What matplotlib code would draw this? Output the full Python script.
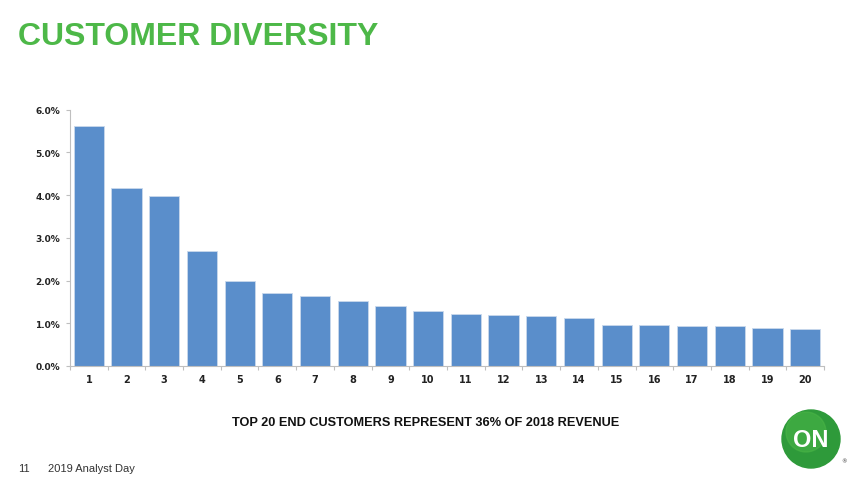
import matplotlib
matplotlib.use("Agg")
import matplotlib.pyplot as plt
from matplotlib.patches import Circle
import numpy as np

categories = [str(i) for i in range(1, 21)]
values = [5.61, 4.17, 3.97, 2.69, 2.00, 1.70, 1.65, 1.51, 1.40, 1.28,
          1.22, 1.19, 1.16, 1.13, 0.95, 0.95, 0.94, 0.93, 0.89, 0.86]
yticks = [0, 1, 2, 3, 4, 5, 6]
ytick_labels = ["0.0%", "1.0%", "2.0%", "3.0%", "4.0%", "5.0%", "6.0%"]

title = "CUSTOMER DIVERSITY"
caption = "TOP 20 END CUSTOMERS REPRESENT 36% OF 2018 REVENUE"

fig = plt.figure(figsize=(8.62, 4.85), dpi=100)
ax = fig.add_axes([70/862, 1-367/485, (824-70)/862, (367-110.7)/485])

x = np.arange(len(categories))
ax.bar(x, values, width=0.8, color="#5A8ECB", edgecolor="#C9D8EC", linewidth=0.6)
ax.set_xlim(-0.5, len(categories) - 0.5)
ax.set_ylim(0, 6)
ax.set_yticks(yticks)
ax.set_yticklabels(ytick_labels, fontsize=6.5, fontweight="bold", color="#222222")
ax.set_xticks(x)
ax.set_xticklabels(categories, fontsize=7, fontweight="bold", color="#222222")
ax.tick_params(axis="x", length=0, pad=6)
ax.set_xticks(np.arange(-0.5, len(categories)), minor=True)
ax.tick_params(axis="x", which="minor", length=3, color="#BFBFBF", width=0.8)
ax.tick_params(axis="y", length=3, color="#BFBFBF", width=0.8, pad=4)
for s in ["top", "right"]:
    ax.spines[s].set_visible(False)
ax.spines["left"].set_color("#BFBFBF")
ax.spines["bottom"].set_color("#BFBFBF")

narrow = ["Liberation Sans Narrow", "Liberation Sans", "DejaVu Sans"]
fig.text(18/862, 1-37/485, title, fontsize=23, fontweight="bold", color="#4DB848",
         family=narrow, va="center", ha="left")
fig.text(426/862, 1-423/485, caption, fontsize=9.2, fontweight="bold", color="#111111",
         family=narrow, va="center", ha="center")
fig.text(18/862, 1-469/485, "11", fontsize=8, color="#333333", va="center", ha="left",
         family=["Liberation Sans", "DejaVu Sans"])
fig.text(48/862, 1-469/485, "2019 Analyst Day", fontsize=8, color="#333333", va="center",
         ha="left", family=["Liberation Sans", "DejaVu Sans"])

# logo
lax = fig.add_axes([0, 0, 1, 1], facecolor="none")
lax.set_xlim(0, 862)
lax.set_ylim(485, 0)
lax.axis("off")
lax.add_patch(Circle((811, 440), 29, color="#2E9A3A"))
lax.add_patch(Circle((806, 433), 20, color="#4DB848", alpha=0.5))
lax.text(811, 441, "ON", fontsize=17, fontweight="bold", color="white", ha="center",
         va="center", family=narrow)
lax.text(844, 462, "®", fontsize=4, color="#333333", ha="center", va="center")

fig.savefig("out.png", dpi=100)
